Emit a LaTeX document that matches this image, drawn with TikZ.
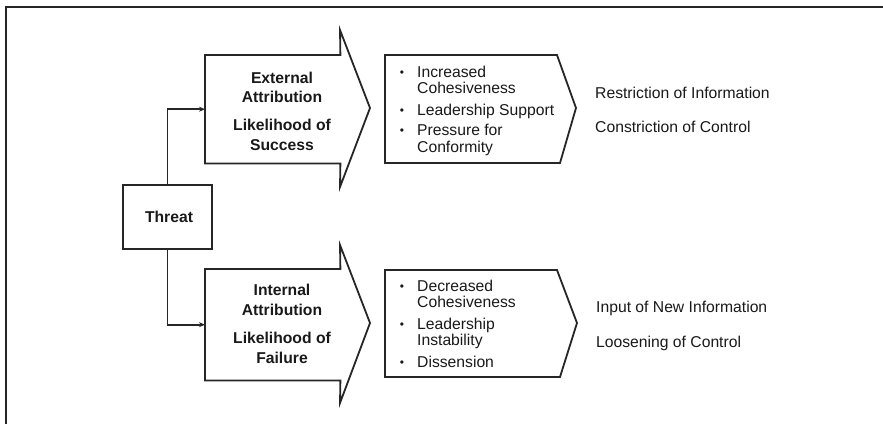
\documentclass[tikz,border=0pt]{standalone}
\usepackage{fontspec}
\setmainfont{Liberation Sans}
\usetikzlibrary{arrows.meta}
\begin{document}
\begin{tikzpicture}[x=1pt,y=-1pt,
  ln/.style={draw=black!85, line width=1.8pt, line join=miter},
  conn/.style={draw=black!85, line width=1.6pt, -{Stealth[length=6pt,width=5pt]}},
  txt/.style={font=\fontsize{15.7}{17}\selectfont, inner sep=0pt, text=black!90, anchor=base west},
  btxt/.style={font=\bfseries\fontsize{15.7}{17}\selectfont, inner sep=0pt, text=black!90, anchor=base},
  bul/.style={font=\fontsize{12}{13}\selectfont, inner sep=0pt, text=black!90, anchor=base},
  body/.style={minimum width=135pt, minimum height=108pt, inner sep=0pt, anchor=north west}]
\useasboundingbox (0,0) rectangle (883,423);
% frame
\draw[ln] (6,424) -- (6,7) -- (884,7);
% threat
\node[ln, minimum width=89pt, minimum height=64pt, inner sep=0pt] (threat) at (167.5,217) {};
\node[btxt] (threatlbl) at (169,222.5) {Threat};
% upper big arrow
\node[body] (ext) at (205,55) {};
\draw[ln] (ext.north west) -- (ext.north east) -- (340,30) -- (370,108) -- (340,187) -- (ext.south east) -- (ext.south west) -- cycle;
\node[btxt] (e1) at (282,83.5) {External};
\node[btxt] (e2) at (282,102.5) {Attribution};
\node[btxt] (e3) at (282,130.5) {Likelihood of};
\node[btxt] (e4) at (282,150.5) {Success};
% lower big arrow
\node[body, minimum height=111pt] (int) at (205,269) {};
\draw[ln] (int.north west) -- (int.north east) -- (340,245) -- (370,323) -- (340,403) -- (int.south east) -- (int.south west) -- cycle;
\node[btxt] (i1) at (282,295.5) {Internal};
\node[btxt] (i2) at (282,315.5) {Attribution};
\node[btxt] (i3) at (282,343.5) {Likelihood of};
\node[btxt] (i4) at (282,363.5) {Failure};
% connectors
\draw[conn] (threat.north) |- (ext.west);
\draw[conn] (threat.south) |- (int.west);
% upper chevron
\draw[ln] (385,55) -- (557,55) -- (576,108) -- (560,163) -- (385,163) -- cycle;
\node[bul] (ub1) at (402,76) {•};
\node[txt] (ut1) at (417,77.5) {Increased};
\node[txt] (ut1b) at (417,93.5) {Cohesiveness};
\node[bul] (ub2) at (402,114) {•};
\node[txt] (ut2) at (417,115.5) {Leadership Support};
\node[bul] (ub3) at (402,134) {•};
\node[txt] (ut3) at (417,135.5) {Pressure for};
\node[txt] (ut3b) at (417,152.5) {Conformity};
\node[txt] (ur1) at (595,98.5) {Restriction of Information};
\node[txt] (ur2) at (595,132.5) {Constriction of Control};
% lower chevron
\draw[ln] (385,270) -- (557,270) -- (577,323) -- (560,377) -- (385,377) -- cycle;
\node[bul] (lb1) at (402,290) {•};
\node[txt] (lt1) at (417,291.5) {Decreased};
\node[txt] (lt1b) at (417,307.5) {Cohesiveness};
\node[bul] (lb2) at (402,328) {•};
\node[txt] (lt2) at (417,329.5) {Leadership};
\node[txt] (lt2b) at (417,345.5) {Instability};
\node[bul] (lb3) at (402,366) {•};
\node[txt] (lt3) at (417,367.5) {Dissension};
\node[txt] (lr1) at (596,312.5) {Input of New Information};
\node[txt] (lr2) at (596,347.5) {Loosening of Control};
\end{tikzpicture}
\end{document}
